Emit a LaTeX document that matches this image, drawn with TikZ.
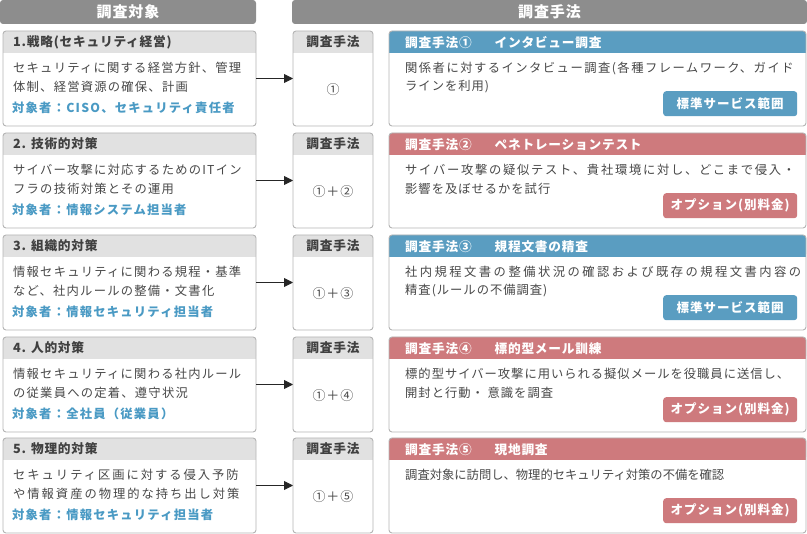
\documentclass[tikz,border=0pt]{standalone}
\usepackage{fontspec}
\setmainfont{Noto Sans CJK JP}
\newfontfamily\jpL{Noto Sans CJK JP}[LetterSpace=10]
\newfontfamily\jpR{Noto Sans CJK JP}[LetterSpace=8]
\newfontfamily\jpH{Noto Sans CJK JP}[LetterSpace=6]
\usetikzlibrary{arrows.meta}
\definecolor{barc}{RGB}{141,141,141}
\definecolor{hdrc}{RGB}{225,225,225}
\definecolor{bordc}{RGB}{180,180,180}
\definecolor{bluec}{RGB}{90,157,193}
\definecolor{pinkc}{RGB}{206,122,125}
\definecolor{txtc}{RGB}{72,72,72}
\definecolor{htxtc}{RGB}{64,64,64}
\definecolor{tgtc}{RGB}{74,154,196}
\tikzset{
  topbar/.style={fill=barc, rounded corners=3pt, anchor=north west, minimum height=24pt,
    inner sep=0pt, outer sep=0pt, text=white, font=\jpH\fontsize{15}{18}\selectfont\bfseries},
  frame/.style={anchor=north west, minimum height=95pt, inner sep=0pt, outer sep=0pt},
  bordline/.style={draw=bordc, line width=0.9pt, rounded corners=3pt},
  hdrtext/.style={anchor=west, inner sep=0pt, text=htxtc, font=\jpH\fontsize{12.7}{15}\selectfont\bfseries},
  bodyL/.style={anchor=west, inner sep=0pt, text=txtc, font=\jpL\fontsize{12.3}{15}\selectfont},
  bodyR/.style={anchor=west, inner sep=0pt, text=txtc, font=\jpR\fontsize{12.3}{15}\selectfont},
  tgt/.style={anchor=west, inner sep=0pt, text=tgtc, font=\jpL\fontsize{12.3}{15}\selectfont\bfseries},
  midtext/.style={inner sep=0pt, text=txtc, font=\jpH\fontsize{13}{15}\selectfont},
  whtext/.style={anchor=west, inner sep=0pt, text=white, font=\jpH\fontsize{12.7}{15}\selectfont\bfseries},
  badge/.style={anchor=north west, minimum width=134pt, minimum height=25pt, inner sep=0pt,
    rounded corners=3pt, text=white, font=\jpR\fontsize{12.5}{15}\selectfont\bfseries},
  arr/.style={-{Triangle[length=9pt,width=9pt]}, line width=0.9pt, draw=black!85},
}
% left column box
\newcommand\leftcol[6]{%
  \node[frame, minimum width=253pt] (#2) at (3,#1) {};
  \fill[white, rounded corners=3pt] (#2.north west) rectangle (#2.south east);
  \fill[hdrc, rounded corners=3pt] (#2.north west) rectangle ([yshift=-22pt]#2.north east);
  \fill[hdrc] ([yshift=-8pt]#2.north west) rectangle ([yshift=-22pt]#2.north east);
  \draw[bordline] (#2.north west) rectangle (#2.south east);
  \node[hdrtext] (#2h) at (13,#1+11) {#3};
  \node[bodyL] (#2a) at (13,#1+37) {#4};
  \node[bodyL] (#2b) at (13,#1+56) {#5};
  \node[tgt] (#2t) at (12,#1+77) {#6};
}
% middle column box
\newcommand\midcol[3]{%
  \node[frame, minimum width=80pt] (#2) at (293,#1) {};
  \fill[white, rounded corners=3pt] (#2.north west) rectangle (#2.south east);
  \fill[hdrc, rounded corners=3pt] (#2.north west) rectangle ([yshift=-22pt]#2.north east);
  \fill[hdrc] ([yshift=-8pt]#2.north west) rectangle ([yshift=-22pt]#2.north east);
  \draw[bordline] (#2.north west) rectangle (#2.south east);
  \node[midtext, font=\jpH\fontsize{12.7}{15}\selectfont\bfseries, text=htxtc] (#2h) at (333,#1+11) {調査手法};
  \node[midtext] (#2m) at (333,#1+59) {#3};
}
% right column box
\newcommand\rightcol[7]{%
  \node[frame, minimum width=417pt] (#2) at (389,#1) {};
  \fill[white, rounded corners=3pt] (#2.north west) rectangle (#2.south east);
  \fill[#3, rounded corners=3pt] (#2.north west) rectangle ([yshift=-22pt]#2.north east);
  \fill[#3] ([yshift=-8pt]#2.north west) rectangle ([yshift=-22pt]#2.north east);
  \draw[bordline] (#2.north west) rectangle (#2.south east);
  \node[whtext] (#2h) at (405,#1+12) {#4};
  \node[bodyR] (#2a) at (405,#1+37) {#5};
  \node[bodyR] (#2b) at (405,#1+56) {#6};
  \node[badge, fill=#3] (#2g) at (663,#1+60) {#7};
}
\newcommand\ls[1]{\addfontfeatures{LetterSpace=#1}}
\newcommand\gap{\hspace{1.8em}}
\begin{document}
\begin{tikzpicture}[x=1pt,y=-1pt]
\useasboundingbox (0,0) rectangle (807,534);
\node[topbar, minimum width=256pt] (T1) at (0,0) {調査対象};
\node[topbar, minimum width=515pt] (T2) at (292,0) {調査手法};

\leftcol{31}{L1}{1.戦略(セキュリティ経営)}{セキュリティに関する経営方針、管理}{体制、経営資源の確保、計画}{対象者：CISO、セキュリティ責任者}
\leftcol{133}{L2}{2. 技術的対策}{サイバー攻撃に対応するためのITイン}{フラの技術対策とその運用}{対象者：情報システム担当者}
\leftcol{235}{L3}{3. 組織的対策}{情報セキュリティに関わる規程・基準}{など、社内ルールの整備・文書化}{対象者：情報セキュリティ担当者}
\leftcol{337}{L4}{4. 人的対策}{情報セキュリティに関わる社内ルール}{の従業員への定着、遵守状況}{対象者：全社員（従業員）}
\leftcol{438}{L5}{5. 物理的対策}{\ls{16}セキュリティ区画に対する侵入予防}{\ls{16}や情報資産の物理的な持ち出し対策}{対象者：情報セキュリティ担当者}

\midcol{31}{M1}{①}
\midcol{133}{M2}{①＋②}
\midcol{235}{M3}{①＋③}
\midcol{337}{M4}{①＋④}
\midcol{438}{M5}{①＋⑤}

\rightcol{31}{R1}{bluec}{調査手法①\gap インタビュー調査}{\ls{12}関係者に対するインタビュー調査(各種フレームワーク、ガイド}{ラインを利用)}{標準サービス範囲}
\rightcol{133}{R2}{pinkc}{調査手法②\gap ペネトレーションテスト}{\ls{14}サイバー攻撃の疑似テスト、貴社環境に対し、どこまで侵入・}{影響を及ぼせるかを試行}{オプション(別料金)}
\rightcol{235}{R3}{bluec}{調査手法③\gap 規程文書の精査}{\ls{20}社内規程文書の整備状況の確認および既存の規程文書内容の}{精査(ルールの不備調査)}{標準サービス範囲}
\rightcol{337}{R4}{pinkc}{調査手法④\gap 標的型メール訓練}{標的型サイバー攻撃に用いられる擬似メールを役職員に送信し、}{開封と行動・ 意識を調査}{オプション(別料金)}
\rightcol{438}{R5}{pinkc}{調査手法⑤\gap 現地調査}{\ls{0}調査対象に訪問し、物理的セキュリティ対策の不備を確認}{}{オプション(別料金)}

\foreach \i in {1,...,5} \draw[arr] (L\i.east) -- (M\i.west);
\end{tikzpicture}
\end{document}
